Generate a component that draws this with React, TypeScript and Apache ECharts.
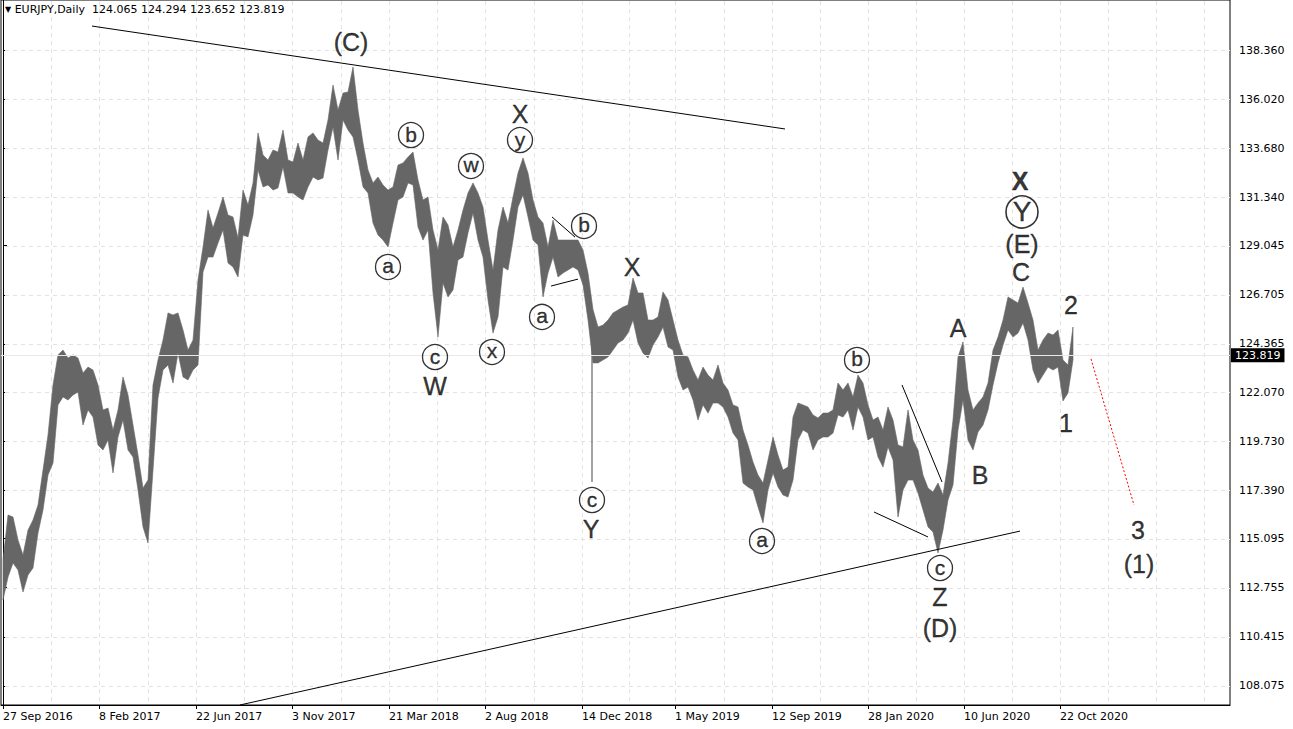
import React, { useEffect, useRef } from "react";
import * as echarts from "echarts";

// EURJPY daily, condensed to 5-bar high/low samples (bar index = sample * 5)
const BARS_PER_SAMPLE = 5;

const highs = [
  114.07, 116.22, 116.12, 115.03, 114.31, 115.5, 115.98, 116.69, 118.36, 120.03,
  122.41, 123.84, 124.07, 123.69, 123.84, 123.69, 122.98, 123.26, 123.12, 122.41,
  121.22, 121.31, 120.26, 121.22, 122.79, 121.93, 120.5, 119.07, 117.5, 117.88,
  122.41, 123.6, 124.55, 125.84, 125.74, 125.84, 125.03, 124.07, 124.55, 127.41,
  128.98, 130.74, 129.88, 130.6, 131.36, 130.5, 130.41, 129.41, 131.69, 130.98,
  132.03, 134.41, 133.36, 133.12, 133.6, 133.5, 134.55, 133.12, 133.03, 133.93,
  133.12, 134.22, 134.41, 134.07, 133.93, 135.03, 136.69, 135.5, 136.31, 136.36,
  137.55, 135.5, 133.93, 132.65, 132.03, 132.31, 131.93, 131.69, 131.84, 132.88,
  132.98, 133.26, 133.5, 132.17, 131.22, 131.36, 129.79, 128.84, 130.41, 130.03,
  128.98, 129.79, 130.74, 131.55, 132.03, 131.55, 130.88, 129.31, 127.88, 129.79,
  130.88, 130.12, 131.36, 132.5, 133.22, 132.5, 131.22, 130.41, 130.12, 128.98,
  130.26, 129.31, 129.31, 129.31, 129.31, 129.31, 128.84, 127.74, 126.0, 125.17,
  125.26, 125.5, 125.84, 125.98, 126.12, 126.22, 127.5, 126.79, 126.79, 125.5,
  125.5, 125.65, 126.84, 126.46, 125.5, 124.55, 123.84, 123.74, 123.12, 122.65,
  123.26, 122.88, 122.65, 123.36, 122.5, 122.17, 121.46, 121.36, 120.26, 119.55,
  118.74, 118.12, 117.74, 118.84, 119.93, 119.07, 118.36, 118.5, 120.88, 121.55,
  121.46, 121.36, 120.98, 120.84, 121.07, 121.07, 121.22, 122.5, 122.17, 122.5,
  121.84, 122.88, 122.5, 121.46, 120.74, 120.88, 120.26, 121.36, 120.74, 119.55,
  119.46, 121.22, 119.79, 119.31, 118.12, 117.5, 117.31, 117.74, 117.17, 118.69,
  120.74, 123.74, 124.46, 122.17, 121.22, 121.55, 121.84, 122.5, 124.07, 124.69,
  125.5, 126.6, 126.46, 126.31, 127.07, 126.31, 125.5, 124.07, 124.55, 124.88,
  124.79, 125.03, 123.6, 123.36, 125.17,
];

const lows = [
  112.17, 113.26, 113.93, 113.6, 112.55, 113.36, 113.69, 115.36, 116.46, 118.12,
  118.69, 121.46, 121.84, 121.69, 121.93, 122.07, 120.5, 121.22, 120.88, 119.55,
  119.31, 119.79, 118.22, 119.93, 120.74, 119.31, 118.98, 117.41, 115.65, 114.88,
  118.36, 121.79, 123.12, 123.36, 122.5, 123.93, 122.79, 122.65, 123.12, 123.36,
  127.79, 128.5, 128.5, 129.17, 129.79, 128.22, 128.03, 127.55, 129.55, 129.46,
  130.5, 132.65, 131.84, 131.93, 131.69, 131.79, 132.79, 131.55, 131.55, 131.36,
  131.22, 131.84, 132.31, 132.17, 132.26, 133.6, 134.69, 133.12, 135.03, 134.55,
  134.22, 133.12, 131.84, 131.55, 130.12, 129.55, 129.31, 128.98, 130.12, 131.22,
  131.36, 132.03, 131.93, 129.93, 129.31, 129.79, 126.79, 124.69, 127.26, 126.6,
  126.93, 128.36, 128.5, 129.65, 130.6, 129.31, 128.5, 126.46, 124.88, 125.65,
  128.03, 127.88, 129.31, 130.88, 131.46, 130.41, 129.31, 129.07, 126.6, 127.74,
  128.5, 127.55, 127.74, 127.88, 128.03, 127.88, 127.17, 125.5, 123.46, 123.46,
  123.6, 123.74, 124.07, 124.41, 124.55, 124.88, 125.5, 124.41, 123.93, 123.69,
  124.31, 124.69, 125.17, 124.22, 124.07, 122.79, 122.17, 122.31, 121.69, 120.74,
  121.46, 121.07, 121.55, 121.55, 121.36, 120.88, 120.12, 119.79, 117.74, 117.55,
  117.41, 116.6, 115.84, 117.41, 118.22, 117.55, 117.17, 117.07, 117.88, 119.79,
  120.26, 120.12, 119.31, 119.79, 119.93, 119.93, 120.12, 120.98, 120.88, 121.22,
  120.26, 121.36, 120.88, 119.79, 119.93, 118.98, 118.5, 119.46, 118.84, 116.12,
  117.41, 117.88, 117.88, 117.26, 116.46, 115.65, 115.41, 114.41, 115.5, 116.93,
  117.65, 120.26, 121.69, 119.79, 119.31, 120.17, 120.5, 121.22, 122.41, 123.46,
  124.31, 125.03, 124.69, 124.88, 125.36, 124.55, 123.12, 122.5, 122.88, 123.26,
  123.12, 123.26, 121.65, 122.03, 123.6,
];

// single-bar wicks that stand far outside the sampled band
const wickBars = [589];
const wickHighs = [125.5];
const wickLows = [117.79];

// last bar: open, high, low, close
const lastOHLC = [124.065, 124.294, 123.652, 123.819];

const priceTicks = [
  138.36, 136.02, 133.68, 131.34, 129.045, 126.705, 124.365, 122.07, 119.73,
  117.39, 115.095, 112.755, 110.415, 108.075,
];

const dateLabels = [
  "27 Sep 2016", "8 Feb 2017", "22 Jun 2017", "3 Nov 2017", "21 Mar 2018",
  "2 Aug 2018", "14 Dec 2018", "1 May 2019", "12 Sep 2019", "28 Jan 2020",
  "10 Jun 2020", "22 Oct 2020",
];
const dateBars = [0, 96, 193, 289, 386, 482, 579, 672, 769, 865, 961, 1057];

// wave labels: [text, bar, price, bold]
const waveLabels: [string, number, number, boolean][] = [
  ["(C)", 348, 138.74, false],
  ["X", 517, 135.31, false],
  ["X", 629, 128.03, false],
  ["W", 432, 122.36, false],
  ["Y", 588, 115.55, false],
  ["A", 955, 125.12, false],
  ["B", 977, 118.12, false],
  ["Z", 937, 112.31, false],
  ["(D)", 937, 110.84, false],
  ["X", 1017, 132.12, true],
  ["(E)", 1019, 129.12, false],
  ["C", 1018, 127.8, false],
  ["2", 1068, 126.22, false],
  ["1", 1063, 120.6, false],
  ["3", 1135, 115.5, false],
  ["(1)", 1136, 113.88, false],
];

// circled wave labels: [letter, bar, price]
const circledLabels: [string, number, number][] = [
  ["b", 408, 134.31],
  ["w", 468, 132.84],
  ["y", 517, 134.07],
  ["b", 581, 129.98],
  ["a", 385, 128.03],
  ["c", 432, 123.74],
  ["x", 489, 123.98],
  ["a", 539, 125.65],
  ["c", 589, 116.93],
  ["a", 759, 114.98],
  ["b", 854, 123.6],
  ["c", 937, 113.69],
];
const bigCircledLabels: [string, number, number][] = [["Y", 1019, 130.65]];

// drawn trend lines: pairs of [bar, price]
const trendLines: [number, number][][] = [
  [[89, 139.5], [782, 134.6]],
  [[237, 107.17], [1017, 115.45]],
  [[549, 130.41], [572, 129.45]],
  [[548, 127.12], [575, 127.45]],
  [[899, 122.41], [939, 117.79]],
  [[871, 116.36], [925, 115.17]],
];
const projectionLine: [number, number][] = [[1088, 123.65], [1131, 116.69]];

const AXIS_FONT = '"DejaVu Sans", Tahoma, sans-serif';
const LABEL_FONT = '"Liberation Sans", Arial, sans-serif';
const BAND = "#666666";
const GRID_LINE = "#e2e2e2";

export default function App() {
  const ref = useRef<HTMLDivElement>(null);

  useEffect(() => {
    if (!ref.current) return;
    const chart = echarts.init(ref.current, undefined, { renderer: "svg" });

    const n = Math.min(highs.length, lows.length);
    const samples: number[][] = [];
    for (let i = 0; i < n; i++) samples.push([i * BARS_PER_SAMPLE, highs[i], lows[i]]);

    // vertical grid: halfway points and date ticks after the first, continued to the right edge
    const gridBars: number[] = [];
    for (let i = 0; i < dateBars.length; i++) {
      if (i > 0) gridBars.push(dateBars[i]);
      if (i + 1 < dateBars.length) gridBars.push((dateBars[i] + dateBars[i + 1]) / 2);
    }
    const half = (dateBars[dateBars.length - 1] - dateBars[dateBars.length - 2]) / 2;
    for (let b = dateBars[dateBars.length - 1] + half; b < 1227; b += half) gridBars.push(b);

    const close = lastOHLC[3];

    const textDark = { textBorderColor: "#000", textBorderWidth: 0.35 };

    const option: any = {
      animation: false,
      backgroundColor: "#ffffff",
      title: {
        text: "{tri|▼} EURJPY,Daily  " + lastOHLC.map((v) => v.toFixed(3)).join(" "),
        left: 5,
        top: 4,
        padding: 0,
        textStyle: {
          fontSize: 11,
          fontWeight: "normal",
          color: "#000",
          fontFamily: AXIS_FONT,
          rich: { tri: { fontSize: 8, color: "#000", fontFamily: AXIS_FONT } },
        },
      },
      grid: {
        left: 1,
        top: 0,
        width: 1229,
        height: 705,
        show: true,
        borderColor: "#000",
        borderWidth: 1,
        backgroundColor: "transparent",
      },
      xAxis: {
        type: "value",
        min: -2,
        max: 1227,
        axisLine: { show: true, lineStyle: { color: "#000", width: 1 } },
        axisTick: { show: true, customValues: dateBars, length: 4, lineStyle: { color: "#000" } },
        axisLabel: {
          show: true,
          customValues: dateBars,
          formatter: (v: number) => {
            const i = dateBars.indexOf(v);
            return i >= 0 ? dateLabels[i] : "";
          },
          align: "left",
          margin: 6,
          color: "#000",
          fontSize: 11,
          fontFamily: AXIS_FONT,
        },
        splitLine: { show: false },
      },
      yAxis: {
        type: "value",
        position: "right",
        min: 107.169,
        max: 140.741,
        axisLine: { show: true, lineStyle: { color: "#000", width: 1 } },
        axisTick: { show: true, customValues: priceTicks, length: 4, lineStyle: { color: "#000" } },
        axisLabel: {
          show: true,
          customValues: priceTicks,
          formatter: (v: number) => v.toFixed(3),
          margin: 9,
          color: "#000",
          fontSize: 11,
          fontFamily: AXIS_FONT,
        },
        splitLine: { show: false },
      },
      series: [
        {
          // dashed horizontal grid at each price tick
          type: "custom",
          z: 1,
          silent: true,
          data: priceTicks.map((v) => [0, v]),
          encode: { x: 0, y: 1 },
          renderItem: (params: any, api: any) => {
            const cs = params.coordSys;
            const y = Math.round(api.coord([0, api.value(1)])[1]) + 0.5;
            return {
              type: "line",
              shape: { x1: cs.x + 4, y1: y, x2: cs.x + cs.width, y2: y },
              style: { stroke: GRID_LINE, lineWidth: 1, lineDash: [4, 4] },
            };
          },
        },
        {
          // dashed vertical grid at date ticks and halfway points
          type: "custom",
          z: 1,
          silent: true,
          data: gridBars.map((b) => [b, close]),
          encode: { x: 0, y: 1 },
          renderItem: (params: any, api: any) => {
            const cs = params.coordSys;
            const x = Math.round(api.coord([api.value(0), close])[0]) + 0.5;
            return {
              type: "line",
              shape: { x1: x, y1: cs.y + 1, x2: x, y2: cs.y + cs.height },
              style: { stroke: GRID_LINE, lineWidth: 1, lineDash: [4, 4] },
            };
          },
        },
        {
          // current-price line with its tag on the price scale
          type: "line",
          z: 1,
          silent: true,
          symbol: "none",
          lineStyle: { width: 0 },
          data: [[0, close]],
          markLine: {
            silent: true,
            symbol: ["none", "none"],
            animation: false,
            data: [
              {
                yAxis: close,
                lineStyle: { color: "#e8e8e8", type: "solid", width: 1 },
                label: {
                  show: true,
                  position: "end",
                  distance: 1,
                  formatter: close.toFixed(3),
                  color: "#fff",
                  backgroundColor: "#000",
                  padding: [2, 4, 1, 4],
                  fontSize: 11,
                  fontFamily: AXIS_FONT,
                },
              },
            ],
          },
        },
        {
          // price band: sampled highs across the top, lows back along the bottom
          type: "custom",
          z: 3,
          silent: true,
          clip: true,
          data: samples,
          encode: { x: 0, y: [1, 2] },
          renderItem: (params: any, api: any) => {
            if (params.dataIndex !== 0) return null;
            const top = samples.map((s) => api.coord([s[0], s[1]]));
            const bottom = samples.map((s) => api.coord([s[0], s[2]])).reverse();
            return {
              type: "polygon",
              shape: { points: top.concat(bottom) },
              style: { fill: BAND, stroke: BAND, lineWidth: 0.6 },
            };
          },
        },
        {
          type: "custom",
          z: 3,
          silent: true,
          clip: true,
          data: wickBars.map((b, i) => [b, wickHighs[i], wickLows[i]]),
          encode: { x: 0, y: [1, 2] },
          renderItem: (params: any, api: any) => {
            const p1 = api.coord([api.value(0), api.value(1)]);
            const p2 = api.coord([api.value(0), api.value(2)]);
            return {
              type: "line",
              shape: { x1: p1[0], y1: p1[1], x2: p2[0], y2: p2[1] },
              style: { stroke: BAND, lineWidth: 1.2 },
            };
          },
        },
        ...trendLines.map((seg) => ({
          type: "line",
          z: 4,
          silent: true,
          symbol: "none",
          data: seg,
          lineStyle: { color: "#000", width: 1 },
        })),
        {
          type: "line",
          z: 4,
          silent: true,
          symbol: "none",
          data: projectionLine,
          lineStyle: { color: "#ff0000", width: 1, type: [2, 2] },
        },
        {
          type: "scatter",
          z: 5,
          silent: true,
          symbol: "circle",
          symbolSize: 1,
          itemStyle: { color: "rgba(0,0,0,0)" },
          label: {
            show: true,
            position: "inside",
            color: "#000",
            fontSize: 25,
            fontFamily: LABEL_FONT,
            ...textDark,
          },
          data: waveLabels.map(([t, b, p, bold]) => ({
            value: [b, p],
            label: { formatter: t, fontWeight: bold ? "bold" : "normal" },
          })),
        },
        {
          type: "scatter",
          z: 5,
          silent: true,
          symbol: "circle",
          symbolSize: 25,
          itemStyle: { color: "rgba(255,255,255,0)", borderColor: "#000", borderWidth: 1.3 },
          label: {
            show: true,
            position: "inside",
            color: "#000",
            fontSize: 21,
            fontFamily: LABEL_FONT,
            offset: [0, -1],
            ...textDark,
          },
          data: circledLabels.map(([t, b, p]) => ({ value: [b, p], label: { formatter: t } })),
        },
        {
          type: "scatter",
          z: 5,
          silent: true,
          symbol: "circle",
          symbolSize: 32,
          itemStyle: { color: "rgba(255,255,255,0)", borderColor: "#000", borderWidth: 1.6 },
          label: {
            show: true,
            position: "inside",
            color: "#000",
            fontSize: 28,
            fontFamily: LABEL_FONT,
            ...textDark,
          },
          data: bigCircledLabels.map(([t, b, p]) => ({ value: [b, p], label: { formatter: t } })),
        },
      ],
    };

    chart.setOption(option);
    return () => chart.dispose();
  }, []);

  return (
    <div
      ref={ref}
      style={{ position: "absolute", left: 0, top: 0, width: 1293, height: 729 }}
    />
  );
}
